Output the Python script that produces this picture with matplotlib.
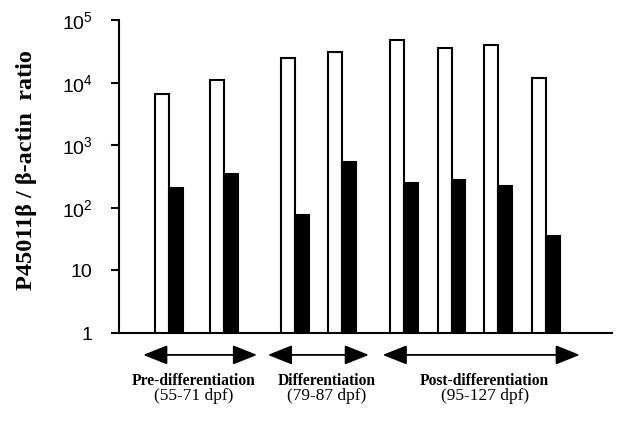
import matplotlib.pyplot as plt

# Values (log scale)
samples = ['s1', 's2', 's3', 's4', 's5', 's6', 's7', 's8']
p450_white = [6500, 11000, 24700, 31000, 49000, 36500, 40000, 11800]
p450_black = [210, 350, 78, 550, 250, 278, 220, 35]

stages = ['Pre-differentiation', 'Differentiation', 'Post-differentiation']
stage_days = ['(55-71 dpf)', '(79-87 dpf)', '(95-127 dpf)']

tick_vals = [1, 10, 100, 1000, 10000, 100000]
tick_labels = ['1', '10', '$10^2$', '$10^3$', '$10^4$', '$10^5$']

# Layout
pos = [1.01, 2.13, 3.57, 4.52, 5.78, 6.75, 7.69, 8.66]
width = 0.28
arrow_spans = [(0.49, 2.80), (3.02, 5.07), (5.35, 9.35)]
text_x = [1.52, 4.22, 7.42]

plt.rcParams['mathtext.fontset'] = 'custom'
plt.rcParams['mathtext.rm'] = 'Liberation Sans'
plt.rcParams['mathtext.it'] = 'Liberation Sans'

fig = plt.figure(figsize=(6.4, 4.21), dpi=100)
ax = fig.add_axes([0.186, 0.209, 0.770, 0.743])

ax.bar([p - width / 2 for p in pos], p450_white, width=width, color='white',
       edgecolor='black', linewidth=1.5)
ax.bar([p + width / 2 for p in pos], p450_black, width=width, color='black',
       edgecolor='black', linewidth=1.5)

ax.set_yscale('log')
ax.set_ylim(1, 1e5)
ax.set_xlim(0, 10)
ax.set_yticks(tick_vals)
ax.set_yticklabels(tick_labels, fontfamily='Liberation Sans', fontsize=14)
ax.minorticks_off()
ax.tick_params(axis='y', length=6, width=1.5, pad=13)
ax.set_xticks([])

for s in ['top', 'right']:
    ax.spines[s].set_visible(False)
for s in ['left', 'bottom']:
    ax.spines[s].set_linewidth(1.5)

ax.set_ylabel('P45011β / β-actin  ratio', fontfamily='Liberation Serif',
              fontweight='bold', fontsize=17.5)
ax.yaxis.set_label_coords(-0.167, 0.52)

# Stage arrows and labels below the axis
for (x0, x1), name, days, tx in zip(arrow_spans, stages, stage_days, text_x):
    ax.annotate('', xy=(x1, -0.07), xytext=(x0, -0.07),
                xycoords=('data', 'axes fraction'),
                textcoords=('data', 'axes fraction'),
                arrowprops=dict(arrowstyle='<|-|>,head_length=1.0,head_width=0.4',
                                color='black', lw=1.3, mutation_scale=15,
                                shrinkA=0, shrinkB=0),
                annotation_clip=False)
    ax.text(tx, -0.153, name, transform=ax.get_xaxis_transform(),
            ha='center', va='center', fontfamily='Liberation Serif',
            fontweight='bold', fontsize=11.2)
    ax.text(tx, -0.2, days, transform=ax.get_xaxis_transform(),
            ha='center', va='center', fontfamily='Liberation Serif',
            fontsize=12.5)

fig.savefig('out.png', dpi=100)
